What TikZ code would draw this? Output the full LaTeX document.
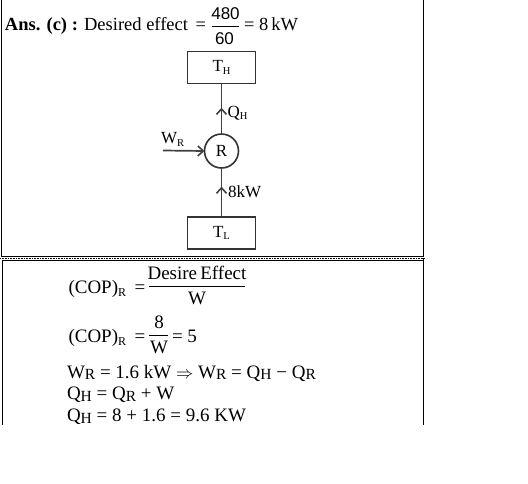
\documentclass[tikz,border=0pt]{standalone}
\usepackage{fontspec}
\setmainfont{Liberation Serif}
\newfontfamily\numfont{Liberation Sans}
\usetikzlibrary{decorations.markings,arrows.meta}
\newcommand{\sbs}[1]{\raisebox{-0.35ex}{\fontsize{10.5}{10.5}\selectfont #1}}
\newcommand{\sbm}[1]{\raisebox{-0.35ex}{\fontsize{12}{12}\selectfont #1}}
\newcommand{\sbl}[1]{\raisebox{-0.22ex}{\fontsize{15.5}{15.5}\selectfont #1}}
\begin{document}
\begin{tikzpicture}[x=1pt,y=-1pt,
  every node/.style={inner sep=0pt,outer sep=0pt},
  txt/.style={anchor=base west,font=\fontsize{18.5}{22}\selectfont},
  btxt/.style={anchor=base west,font=\fontsize{19}{22}\selectfont},
  bctxt/.style={anchor=base,font=\fontsize{19}{22}\selectfont},
  lbl/.style={font=\fontsize{17}{20}\selectfont},
  res/.style={draw=black!80,line width=1.6pt,minimum width=68pt,minimum height=32pt,font=\fontsize{17}{20}\selectfont},
  eng/.style={draw=black!80,line width=1.6pt,circle,minimum size=34pt,font=\fontsize{17}{20}\selectfont},
  flow/.style={draw=black!75,line width=1.7pt},
  midarrow/.style={postaction={decorate},decoration={markings,mark=at position #1 with {\arrow{Straight Barb[length=5.5pt,width=10pt,line width=1.6pt]}}}},
  frame/.style={draw=black,line width=0.8pt}]
\useasboundingbox (0,0) rectangle (528,483);
% frames
\draw[frame] (1,0) -- (1,256) -- (423,256) -- (423,0);
\draw[black,line width=1pt,dash pattern=on 0.8pt off 0.8pt] (0,258.5) -- (425,258.5);
\draw[frame] (2,425) -- (2,260.5) -- (423,260.5);
\draw[frame] (423,258) -- (423,425);
% header
\node[txt] (ans) at (5,30) {\textbf{Ans. (c) :} Desired effect};
\node[txt] (eq1) at (195.5,30) {=};
\node[anchor=base,font=\numfont\fontsize{17}{20}\selectfont] (n480) at (225.5,19) {480};
\node[anchor=base,font=\numfont\fontsize{17}{20}\selectfont] (d60) at (224.5,44.5) {60};
\draw[line width=0.8pt] (212,26) -- (239,26);
\node[txt] (eq2) at (244,30) {= 8\,kW};
% diagram
\node[res] (TH) at (221.5,67.5) {T\sbs{H}};
\node[res] (TL) at (221.5,233) {T\sbs{L}};
\node[eng] (R) at (221.5,151) {R};
\coordinate (wstart) at (163,150.5);
\draw[flow,midarrow=0.52] (R.north) -- (TH.south);
\draw[flow,midarrow=0.62] (TL.north) -- (R.south);
\draw[flow,-{Straight Barb[length=5.5pt,width=10pt,line width=1.6pt]}] (wstart) -- (R.west);
\node[lbl,anchor=base west] (qh) at (227.5,117) {Q\sbs{H}};
\node[lbl,anchor=base west] (wr) at (161,143.5) {W\sbs{R}};
\node[lbl,anchor=base west] (kw) at (228,197.5) {8kW};
% solution
\node[btxt] (c1) at (68.5,293) {(COP)\sbm{R}};
\node[btxt] (e1) at (134.5,293) {=};
\node[bctxt] (num1) at (197,279) {Desire\,Effect};
\draw[line width=0.8pt] (149,286) -- (245,286);
\node[bctxt] (den1) at (197,304.5) {W};
\node[btxt] (c2) at (68.5,342) {(COP)\sbm{R}};
\node[btxt] (e2) at (134.5,342) {=};
\node[bctxt] (num2) at (159,328) {8};
\draw[line width=0.8pt] (149,335) -- (168,335);
\node[bctxt] (den2) at (159,353.5) {W};
\node[btxt] (e3) at (172,342) {= 5};
\node[btxt] (l3) at (67,378) {W\sbl{R} = 1.6 kW $\Rightarrow$ W\sbl{R} = Q\sbl{H} − Q\sbl{R}};
\node[btxt] (l4) at (67,399.5) {Q\sbl{H} = Q\sbl{R} + W};
\node[btxt] (l5) at (67,421.5) {Q\sbl{H} = 8 + 1.6 = 9.6 KW};
\end{tikzpicture}
\end{document}
